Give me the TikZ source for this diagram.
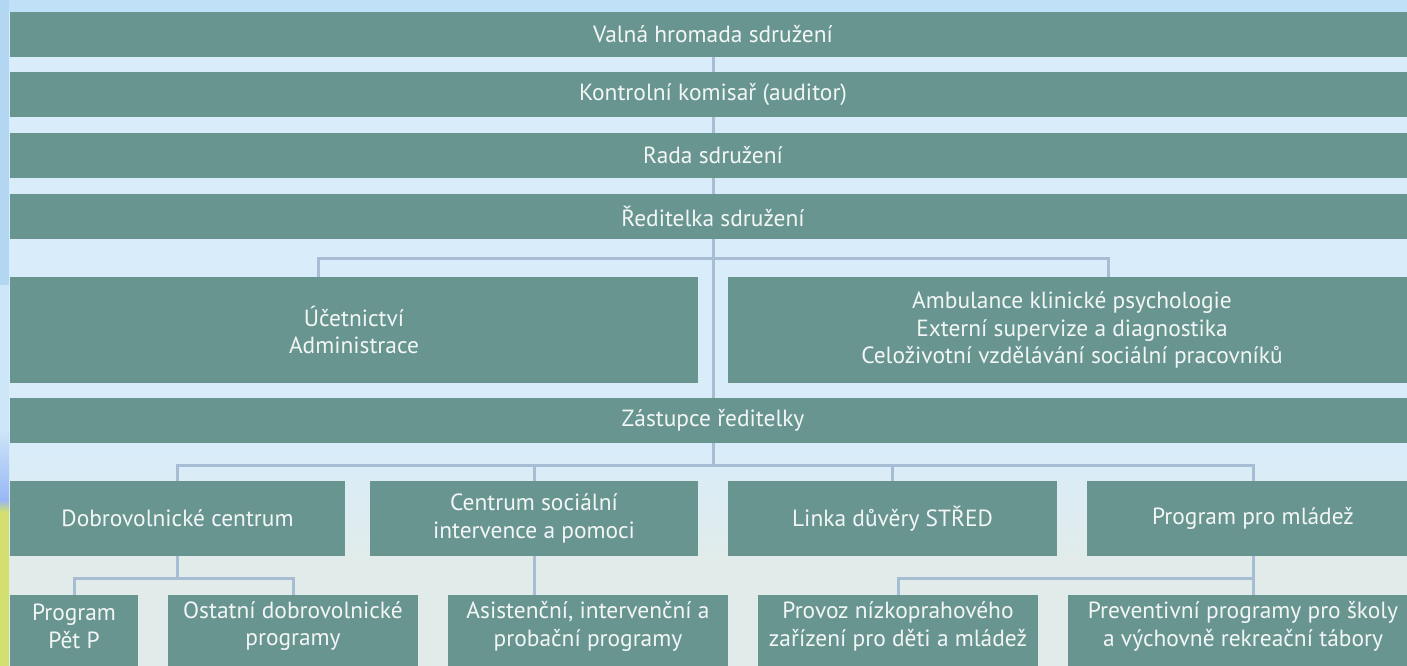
\documentclass[tikz,border=0pt]{standalone}
\usepackage{fontspec}
\setmainfont{PT Sans}
\definecolor{boxc}{HTML}{699591}
\definecolor{linec}{HTML}{A6BDD4}
\definecolor{bgblue}{HTML}{D8ECFA}
\definecolor{bgtop}{HTML}{BFE0F6}
\definecolor{bggreen}{HTML}{E1ECEA}
\definecolor{stripblue}{HTML}{B3D7F3}
\definecolor{stripgreen}{HTML}{D3DF6E}
\definecolor{txtc}{HTML}{F2F7F6}
\pgfdeclarelayer{background}
\pgfsetlayers{background,main}
\tikzset{
  box/.style={fill=boxc, text=txtc, inner sep=0pt, align=center,
    font=\fontsize{23.5}{28}\selectfont, minimum height=45bp},
  txt/.style={text=txtc, inner sep=0pt, align=center, font=\fontsize{23.5}{28}\selectfont},
  conn/.style={draw=linec, line width=3bp}
}
\begin{document}
\begin{tikzpicture}[x=1bp,y=-1bp]
\useasboundingbox (0,0) rectangle (1407,666);
\clip (0,0) rectangle (1407,666);
\begin{pgfonlayer}{background}
\fill[bgblue] (0,0) rectangle (1407,666);
\fill[bgtop] (0,0) rectangle (1407,12);
\shade[top color=bgblue, bottom color=bggreen] (0,445) rectangle (1407,560);
\fill[bggreen] (0,559) rectangle (1407,666);
\fill[stripblue] (0,0) rectangle (9,285);
\fill[bgblue!70!stripblue] (0,285) rectangle (9,430);
\shade[top color=bgblue!70!stripblue, bottom color=stripblue!85!blue] (0,430) rectangle (9,500);
\shade[top color=stripblue!85!blue, bottom color=stripgreen] (0,500) rectangle (9,512);
\fill[stripgreen] (0,512) rectangle (9,666);
\end{pgfonlayer}

% rows
\node[box, minimum width=1406bp] (valna) at (713,34.5) {Valná hromada sdružení};
\node[box, minimum width=1406bp] (komisar) at (713,94.5) {Kontrolní komisař (auditor)};
\node[box, minimum width=1406bp] (rada) at (713,155.5) {Rada sdružení};
\node[box, minimum width=1406bp] (reditelka) at (713,216.5) {Ředitelka sdružení};
\node[box, minimum width=688bp, minimum height=106bp] (ucet) at (354,330) {Účetnictví\\Administrace};
\node[box, minimum width=688bp, minimum height=106bp] (amb) at (1072,330)
  {Ambulance klinické psychologie\\Externí supervize a diagnostika\\Celoživotní vzdělávání sociální pracovníků};
\node[box, minimum width=1406bp] (zast) at (713,420.5) {Zástupce ředitelky};

\node[box, minimum width=335bp, minimum height=75bp] (dobro) at (177.5,518.5) {Dobrovolnické centrum};
\node[box, minimum width=328bp, minimum height=75bp] (centrum) at (534,518.5) {Centrum sociální\\intervence a pomoci};
\node[box, minimum width=329bp, minimum height=75bp] (linka) at (892.5,518.5) {Linka důvěry STŘED};
\node[box, minimum width=332bp, minimum height=75bp] (mladez) at (1253,518.5) {Program pro mládež};

% bottom row boxes (cut by the lower edge)
\node[box, minimum width=128bp, minimum height=80bp, anchor=north] (pet) at (74,595) {};
\node[box, minimum width=250bp, minimum height=80bp, anchor=north] (ostatni) at (293,595) {};
\node[box, minimum width=280bp, minimum height=80bp, anchor=north] (asist) at (588,595) {};
\node[box, minimum width=280bp, minimum height=80bp, anchor=north] (provoz) at (898,595) {};
\node[box, minimum width=350bp, minimum height=80bp, anchor=north] (prev) at (1243,595) {};
\node[txt] (petT) at (74,626) {Program\\Pět P};
\node[txt] (ostatniT) at (293,626) {Ostatní dobrovolnické\\programy};
\node[txt] (asistT) at (588,626) {Asistenční, intervenční a\\probační programy};
\node[txt] (provozT) at (898,626) {Provoz nízkoprahového\\zařízení pro děti a mládež};
\node[txt] (prevT) at (1243,626) {Preventivní programy pro školy\\a výchovně rekreační tábory};

\coordinate (j5a) at (318,277);
\coordinate (j5b) at (1108,277);
\coordinate (j8) at (1253,578);

\begin{pgfonlayer}{background}
\draw[conn] (valna.south) -- (zast.north);
\draw[conn] (j5a) -- ++(0,-19) -| (j5b);
\draw[conn] (zast.south) -- ++(0,24);
\draw[conn] (dobro.north) -- ++(0,-15) -| (mladez.north);
\draw[conn] (centrum.north) -- ++(0,-15);
\draw[conn] (linka.north) -- ++(0,-15);
\draw[conn] (dobro.south) -- ++(0,22);
\draw[conn] (pet.north) -- ++(0,-17) -| (ostatni.north);
\draw[conn] (centrum.south) -- (centrum.south |- asist.north);
\draw[conn] (mladez.south) -- (mladez.south |- prev.north);
\draw[conn] (provoz.north) |- (j8);
\end{pgfonlayer}
\end{tikzpicture}
\end{document}
